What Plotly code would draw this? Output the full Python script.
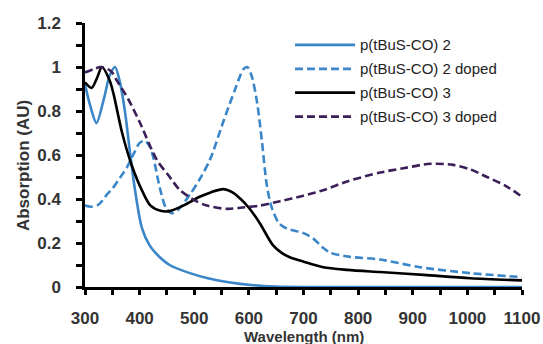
import plotly.graph_objects as go

# ---- data ----
wl_p2 = [300, 310, 321, 335, 345, 355, 364, 373, 382, 391, 404, 418, 431, 455, 492, 525, 560, 608, 650, 700, 800, 900, 1000, 1100]
abs_p2 = [0.92, 0.82, 0.745, 0.86, 0.96, 1.0, 0.93, 0.80, 0.62, 0.45, 0.27, 0.19, 0.15, 0.10, 0.063, 0.04, 0.023, 0.008, 0.002, 0.0, 0.0, 0.0, 0.0, 0.0]

wl_p2d = [300, 312, 325, 340, 351, 365, 377, 390, 400, 410, 418, 425, 437, 448, 458, 470, 492, 510, 529, 553, 575, 590, 597, 605, 615, 624, 633, 642, 655, 670, 700, 718, 735, 750, 785, 840, 913, 1005, 1100]
abs_p2d = [0.37, 0.365, 0.375, 0.42, 0.45, 0.50, 0.545, 0.61, 0.655, 0.665, 0.64, 0.59, 0.45, 0.36, 0.335, 0.35, 0.42, 0.49, 0.58, 0.75, 0.90, 0.99, 1.0, 0.96, 0.84, 0.66, 0.46, 0.36, 0.29, 0.265, 0.245, 0.22, 0.18, 0.155, 0.137, 0.125, 0.09, 0.063, 0.045]

wl_p3 = [300, 312, 322, 331, 345, 352, 368, 386, 406, 420, 440, 455, 480, 510, 530, 553, 570, 585, 600, 620, 644, 660, 675, 700, 736, 780, 840, 920, 1005, 1100]
abs_p3 = [0.93, 0.905, 0.95, 1.0, 0.94, 0.88, 0.70, 0.55, 0.43, 0.37, 0.345, 0.345, 0.37, 0.41, 0.43, 0.445, 0.43, 0.40, 0.36, 0.29, 0.19, 0.155, 0.135, 0.115, 0.09, 0.078, 0.068, 0.055, 0.04, 0.03]

wl_p3d = [300, 315, 330, 348, 358, 380, 400, 431, 452, 474, 500, 523, 560, 584, 620, 657, 700, 736, 780, 840, 883, 932, 974, 1005, 1036, 1070, 1100]
abs_p3d = [0.975, 0.99, 1.0, 0.98, 0.94, 0.85, 0.75, 0.58, 0.51, 0.44, 0.395, 0.37, 0.355, 0.36, 0.37, 0.39, 0.415, 0.44, 0.48, 0.52, 0.54, 0.56, 0.555, 0.535, 0.50, 0.46, 0.41]

names = ["p(tBuS-CO) 2", "p(tBuS-CO) 2 doped", "p(tBuS-CO) 3", "p(tBuS-CO) 3 doped"]
x_ticks = [300, 400, 500, 600, 700, 800, 900, 1000, 1100]
y_ticks = [0, 0.2, 0.4, 0.6, 0.8, 1.0, 1.2]
y_ticktext = ["0", "0.2", "0.4", "0.6", "0.8", "1", "1.2"]
x_title = "Wavelength (nm)"
y_title = "Absorption (AU)"

BLUE = "#3a86c8"
PURPLE = "#3b1f58"
FONT = "Liberation Sans, Arial, sans-serif"
DASH = "8px,4px"

styles = [(BLUE, "solid"), (BLUE, DASH), ("#000000", "solid"), (PURPLE, DASH)]
data = [(wl_p2, abs_p2), (wl_p2d, abs_p2d), (wl_p3, abs_p3), (wl_p3d, abs_p3d)]

fig = go.Figure()
for (x, y), (c, d), n in zip(data, styles, names):
    fig.add_trace(go.Scatter(x=x, y=y, name=n, mode="lines", showlegend=False,
                             line=dict(color=c, width=2.6, dash=d, shape="spline", smoothing=0.8)))

# custom legend (long line samples as in the reference)
leg_x0, leg_x1, leg_tx = 0.4805, 0.618, 0.625
leg_y0, leg_dy = 0.917, 0.0905
for i, ((c, d), n) in enumerate(zip(styles, names)):
    yy = leg_y0 - i * leg_dy
    fig.add_shape(type="line", xref="paper", yref="paper", x0=leg_x0, x1=leg_x1, y0=yy, y1=yy,
                  line=dict(color=c, width=2.8, dash=d))
    fig.add_annotation(xref="paper", yref="paper", x=leg_tx, y=yy, text=n, showarrow=False,
                       xanchor="left", yanchor="middle",
                       font=dict(family=FONT, size=15, color="#222222"))

# axis titles
fig.add_annotation(xref="paper", yref="paper", x=0.5, y=0, yshift=-39, xanchor="center", yanchor="top",
                   text=x_title, showarrow=False,
                   font=dict(family=FONT, size=15, color="#333333", weight="bold"))
fig.add_annotation(xref="paper", yref="paper", x=0, xshift=-62, y=0.458, xanchor="center", yanchor="middle",
                   text=y_title, textangle=-90, showarrow=False,
                   font=dict(family=FONT, size=17, color="#333333", weight="bold"))

axis_font = dict(family=FONT, size=17, color="#333333", weight="bold")

fig.update_layout(
    width=543, height=344, autosize=False,
    margin=dict(l=85, r=21, t=23, b=57),
    paper_bgcolor="white", plot_bgcolor="white",
    font=dict(family=FONT, color="#222222"),
    showlegend=False,
)
fig.update_xaxes(
    range=[300, 1100], tickvals=x_ticks, showgrid=False, zeroline=False, automargin=False,
    showline=True, linecolor="black", linewidth=2.5, layer="below traces",
    ticks="outside", ticklen=5, tickwidth=2.5, tickcolor="black",
    minor=dict(dtick=50, ticks="outside", ticklen=5, tickwidth=2.5, tickcolor="black"),
    tickfont=axis_font, ticklabelstandoff=9,
)
fig.update_yaxes(
    range=[0, 1.2], tickvals=y_ticks, ticktext=y_ticktext, showgrid=False, zeroline=False, automargin=False,
    showline=True, linecolor="black", linewidth=2.5,
    ticks="outside", ticklen=6, tickwidth=2.5, tickcolor="black",
    minor=dict(dtick=0.1, ticks="outside", ticklen=6, tickwidth=2.5, tickcolor="black"),
    tickfont=axis_font, ticklabelstandoff=12,
)

fig.write_html("out.html",
               config={"responsive": False, "displayModeBar": False},
               post_script="document.body.style.margin='0';document.body.style.overflow='hidden';")
